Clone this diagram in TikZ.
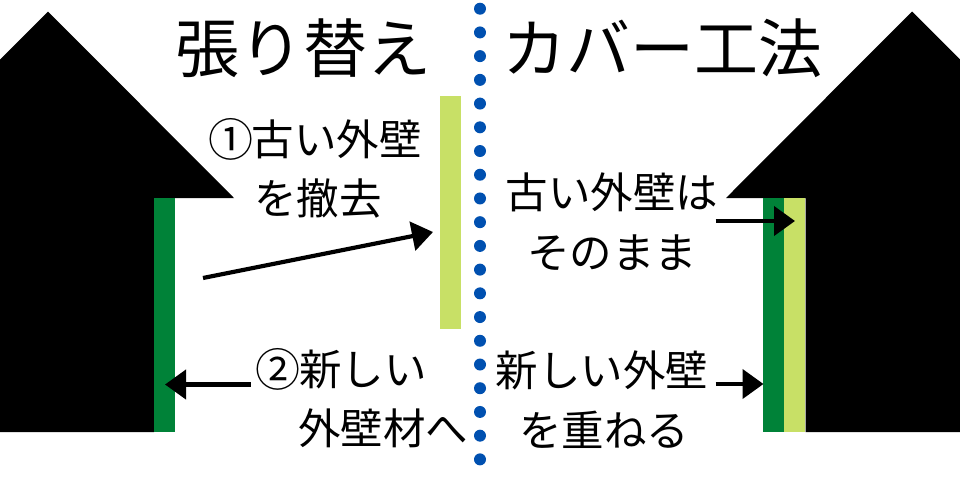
\documentclass[tikz,border=0pt]{standalone}
\usepackage{fontspec}
\setmainfont{Noto Sans CJK JP}
\usetikzlibrary{arrows.meta}
\definecolor{wallnew}{RGB}{0,130,56}
\definecolor{wallold}{RGB}{200,224,102}
\definecolor{dotblue}{RGB}{0,80,176}
\newcommand{\circnum}[1]{\makebox[42.5pt][c]{\raisebox{-1pt}{\fontsize{45}{45}\selectfont #1}}}
\tikzset{
  x=1pt,y=-1pt,
  house/.style={fill=black,draw=none},
  wall/.style={rectangle,draw=none,inner sep=0pt,outer sep=0pt,minimum width=#1},
  wall/.default=21pt,
  sepdot/.style={circle,fill=dotblue,draw=none,inner sep=0pt,minimum size=12pt},
  big/.style={inner sep=0pt,font=\fontsize{64}{64}\selectfont,text height=56.3pt,text depth=7.7pt},
  lbl/.style={inner sep=0pt,font=\fontsize{42.5}{42.5}\selectfont,text height=37.4pt,text depth=5.1pt},
  arr/.style={draw=black,line width=4.2pt,-{Triangle[length=21pt,width=29pt]}}
}
\begin{document}
\begin{tikzpicture}
\useasboundingbox (0,0) rectangle (960,480);
% houses
\fill[house] (0,59.5) -- (48,11.5) -- (234,198) -- (154,198) -- (154,432) -- (0,432) -- cycle;
\fill[house] (960,59.5) -- (912,11.5) -- (726,198) -- (805.5,198) -- (805.5,432) -- (960,432) -- cycle;
% walls
\node[wall,fill=wallnew,minimum height=234pt] (leftnew) at (164.75,315) {};
\node[wall,fill=wallold,minimum height=233.5pt] (removed) at (450.7,212.25) {};
\node[wall,fill=wallnew,minimum height=234pt] (rightnew) at (773.8,315) {};
\node[wall,fill=wallold,minimum height=234pt] (rightold) at (794.8,315) {};
% separator
\foreach \i in {0,...,19} {
  \node[sepdot] (d\i) at (480,{8.7+23.72*\i}) {};
}
% text
\node[big] (t1) at (303,48.5) {張り替え};
\node[big] (t2) at (662,48.5) {カバー工法};
\node[lbl] (a1) at (315.5,139) {\circnum{①}古い外壁};
\node[lbl] (a2) at (318,198) {を撤去};
\node[lbl] (b1) at (612,192) {古い外壁は};
\node[lbl] (b2) at (612,252) {そのまま};
\node[lbl] (c1) at (341.5,369) {\circnum{②}新しい};
\node[lbl] (c2) at (383,428) {外壁材へ};
\node[lbl] (e1) at (602,370) {新しい外壁};
\node[lbl] (e2) at (604,430) {を重ねる};
% arrows
\coordinate (s1) at (203,278);
\coordinate (e1p) at (433,232);
\coordinate (s2) at (250.5,384.5);
\coordinate (e2p) at (165,384.5);
\coordinate (s3) at (715.5,221);
\coordinate (e3p) at (795,221);
\coordinate (s4) at (715.5,384);
\coordinate (e4p) at (763.5,384);
\draw[arr] (s1) -- (e1p);
\draw[arr] (s2) -- (e2p);
\draw[arr] (s3) -- (e3p);
\draw[arr] (s4) -- (e4p);
\end{tikzpicture}
\end{document}
